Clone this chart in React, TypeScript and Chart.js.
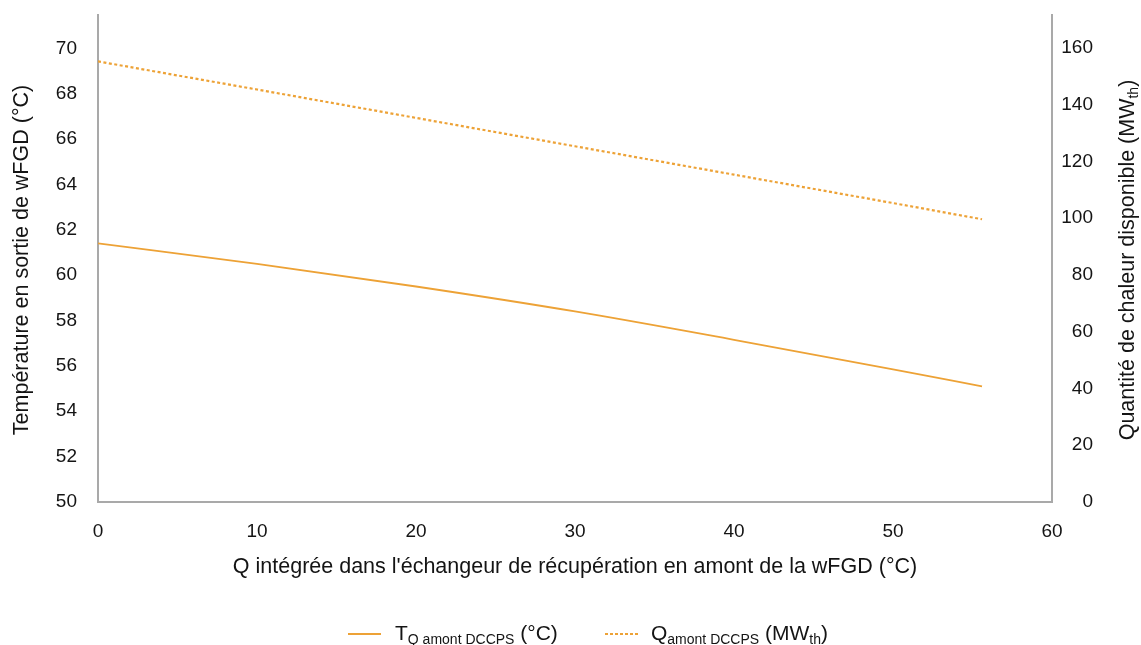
import React, { useEffect, useRef } from "react";
import { Chart, registerables } from "chart.js";
Chart.register(...registerables);

const xValues = [0, 10, 20, 30, 40, 50, 55.6];
const tempValues = [61.4, 60.5, 59.5, 58.4, 57.15, 55.85, 55.1];
const heatValues = [155.2, 145.3, 135.3, 125.3, 115.3, 105.3, 99.6];
const xTicks = [0, 10, 20, 30, 40, 50, 60];
const leftTicks = [50, 52, 54, 56, 58, 60, 62, 64, 66, 68, 70];
const rightTicks = [0, 20, 40, 60, 80, 100, 120, 140, 160];

const xTitle = "Q intégrée dans l'échangeur de récupération en amont de la wFGD (°C)";
const leftTitle = "Température en sortie de wFGD (°C)";
const rightTitleMain = "Quantité de chaleur disponible (MW";
const rightTitleSub = "th";
const rightTitleEnd = ")";

const FONT = "'Liberation Sans', Arial, sans-serif";
const ORANGE = "#EDA236";
const TEXT = "#141414";
const AXIS = "#A9A9A9";
const TITLE_SIZE = 21.5;
const SUB_SIZE = 14;
const SHIFT = 17;

type Seg = { t: string; sub?: boolean };

function drawSegs(ctx: CanvasRenderingContext2D, segs: Seg[], x: number, y: number, size: number, subSize: number) {
  let cx = x;
  for (const s of segs) {
    ctx.font = `${s.sub ? subSize : size}px ${FONT}`;
    ctx.fillText(s.t, cx, s.sub ? y + 4 : y);
    cx += ctx.measureText(s.t).width;
  }
  return cx;
}

function segsWidth(ctx: CanvasRenderingContext2D, segs: Seg[], size: number, subSize: number) {
  let w = 0;
  for (const s of segs) {
    ctx.font = `${s.sub ? subSize : size}px ${FONT}`;
    w += ctx.measureText(s.t).width;
  }
  return w;
}

const overlay = {
  id: "overlay",
  afterDraw(chart: any) {
    const ctx: CanvasRenderingContext2D = chart.ctx;
    const a = chart.chartArea;
    ctx.save();
    ctx.translate(0, SHIFT);
    ctx.fillStyle = TEXT;
    ctx.textBaseline = "alphabetic";
    ctx.textAlign = "left";
    // x title
    ctx.font = `${TITLE_SIZE}px ${FONT}`;
    const xw = ctx.measureText(xTitle).width;
    ctx.fillText(xTitle, (a.left + a.right) / 2 - xw / 2, 573);
    // left title
    const cy = 260;
    ctx.save();
    ctx.translate(28, cy);
    ctx.rotate(-Math.PI / 2);
    ctx.font = `${TITLE_SIZE}px ${FONT}`;
    const lw = ctx.measureText(leftTitle).width;
    ctx.fillText(leftTitle, -lw / 2, 0);
    ctx.restore();
    // right title
    ctx.save();
    ctx.translate(1134, cy);
    ctx.rotate(-Math.PI / 2);
    const rsegs: Seg[] = [{ t: rightTitleMain }, { t: rightTitleSub, sub: true }, { t: rightTitleEnd }];
    const tot = segsWidth(ctx, rsegs, TITLE_SIZE, SUB_SIZE);
    drawSegs(ctx, rsegs, -tot / 2, 0, TITLE_SIZE, SUB_SIZE);
    ctx.restore();
    // legend
    const ly = 634;
    ctx.strokeStyle = ORANGE;
    ctx.lineWidth = 2;
    ctx.beginPath();
    ctx.moveTo(348, ly);
    ctx.lineTo(381, ly);
    ctx.stroke();
    drawSegs(ctx, [{ t: "T" }, { t: "Q amont DCCPS", sub: true }, { t: " (°C)" }], 395, 640, 21, SUB_SIZE);
    ctx.setLineDash([3, 2]);
    ctx.beginPath();
    ctx.moveTo(605, ly);
    ctx.lineTo(640, ly);
    ctx.stroke();
    ctx.setLineDash([]);
    drawSegs(ctx, [{ t: "Q" }, { t: "amont DCCPS", sub: true }, { t: " (MW" }, { t: "th", sub: true }, { t: ")" }], 651, 640, 21, SUB_SIZE);
    ctx.restore();
  },
};

export default function App() {
  const ref = useRef<HTMLCanvasElement>(null);
  useEffect(() => {
    if (!ref.current) return;
    const chart = new Chart(ref.current, {
      type: "line",
      data: {
        datasets: [
          {
            label: "T",
            data: xValues.map((x, i) => ({ x, y: tempValues[i] })),
            borderColor: ORANGE,
            borderWidth: 1.8,
            pointRadius: 0,
            cubicInterpolationMode: "monotone",
            yAxisID: "y",
          },
          {
            label: "Q",
            data: xValues.map((x, i) => ({ x, y: heatValues[i] })),
            borderColor: ORANGE,
            borderWidth: 2.2,
            borderDash: [3, 2.5],
            pointRadius: 0,
            yAxisID: "y1",
          },
        ],
      },
      options: {
        responsive: false,
        animation: false,
        layout: { autoPadding: false, padding: { top: 14 + SHIFT, left: 0, right: 48, bottom: 63 } },
        plugins: { legend: { display: false }, tooltip: { enabled: false } },
        scales: {
          x: {
            type: "linear",
            min: 0,
            max: 60,
            afterBuildTicks: (ax: any) => { ax.ticks = xTicks.map((v) => ({ value: v })); },
            afterFit: (ax: any) => { ax.height = 80; },
            grid: { display: false, drawTicks: false },
            border: { display: true, color: AXIS, width: 2 },
            ticks: { color: TEXT, font: { family: FONT, size: 19 }, padding: 18, maxRotation: 0 },
          },
          y: {
            type: "linear",
            position: "left",
            min: 50,
            max: 71.45,
            afterBuildTicks: (ax: any) => { ax.ticks = leftTicks.map((v) => ({ value: v })); },
            afterFit: (ax: any) => { ax.width = 98; },
            grid: { display: false, drawTicks: false },
            border: { display: true, color: AXIS, width: 2 },
            ticks: { color: TEXT, font: { family: FONT, size: 19 }, padding: 21 },
          },
          y1: {
            type: "linear",
            position: "right",
            min: 0,
            max: 171.4,
            afterBuildTicks: (ax: any) => { ax.ticks = rightTicks.map((v) => ({ value: v })); },
            afterFit: (ax: any) => { ax.width = 41; },
            grid: { display: false, drawTicks: false },
            border: { display: true, color: AXIS, width: 2 },
            ticks: { color: TEXT, font: { family: FONT, size: 19 }, padding: 8, crossAlign: "far" },
          },
        },
      },
      plugins: [overlay],
    } as any);
    return () => chart.destroy();
  }, []);
  return (
    <div style={{ position: "absolute", left: 0, top: 0, width: 1141, height: 645, overflow: "hidden", background: "#fff" }}>
      <canvas ref={ref} width={1141} height={645 + SHIFT} style={{ display: "block", position: "absolute", left: 0, top: -SHIFT }} />
    </div>
  );
}
